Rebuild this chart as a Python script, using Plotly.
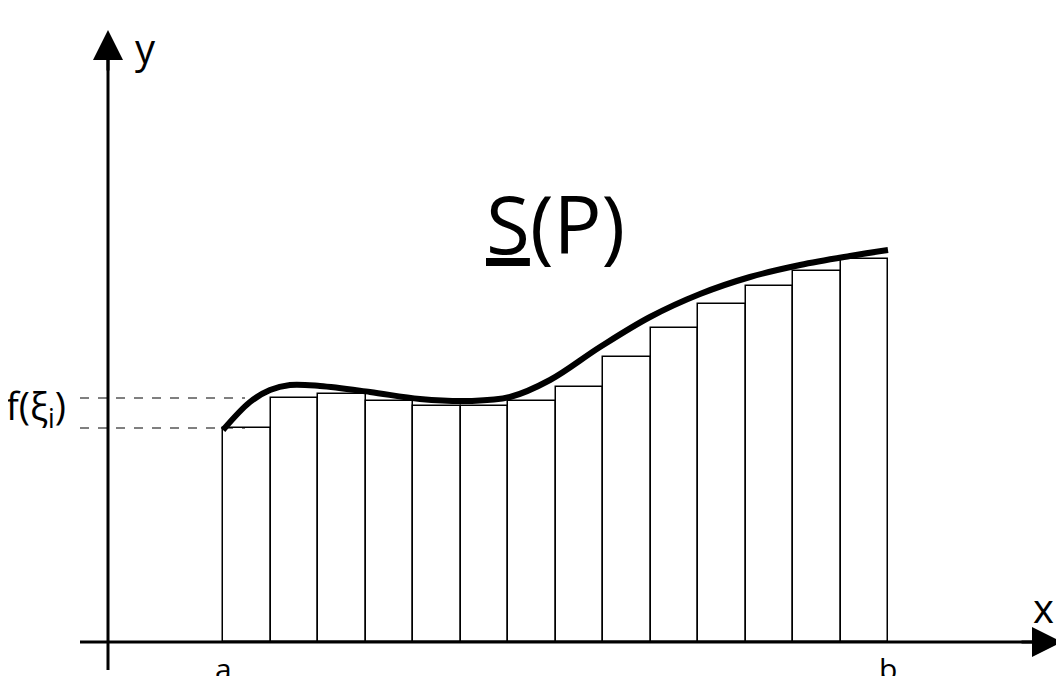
import plotly.graph_objects as go

# partition a..b into 14 cells (pixel-like units), lower sum heights
x_a, x_b = 223, 888
bar_heights = [214, 244, 248, 241, 236, 236, 241, 255, 285, 314, 338, 356, 371, 383]
curve_x = [223, 250, 270, 290, 320, 370, 420, 470, 510, 550, 600, 650, 700, 750, 800, 850, 888]
curve_y = [212, 240, 252, 257, 256, 250, 243, 241, 245, 262, 295, 325, 348, 365, 377, 386, 392]

n = len(bar_heights)
w = (x_b - x_a) / n
bar_x = [x_a + w * (i + 0.5) for i in range(n)]

fig = go.Figure()
fig.add_trace(go.Bar(x=bar_x, y=bar_heights, width=w, marker=dict(color="white", line=dict(color="black", width=1.5))))
fig.add_trace(go.Scatter(x=curve_x, y=curve_y, mode="lines", line=dict(color="black", width=6, shape="spline")))

# dashed guides to f(xi_i)
for h in [bar_heights[0], bar_heights[1]]:
    fig.add_trace(go.Scatter(x=[80, 245], y=[h, h], mode="lines", line=dict(color="black", width=1, dash="dash")))

# axes
fig.add_trace(go.Scatter(x=[80, 1035], y=[0, 0], mode="lines", line=dict(color="black", width=3)))
fig.add_trace(go.Scatter(x=[108, 108], y=[-28, 585], mode="lines", line=dict(color="black", width=3)))
fig.add_annotation(x=1062, y=0, ax=1020, ay=0, xref="x", yref="y", axref="x", ayref="y",
                   showarrow=True, arrowhead=2, arrowsize=2, arrowwidth=3, arrowcolor="black", text="")
fig.add_annotation(x=108, y=612, ax=108, ay=570, xref="x", yref="y", axref="x", ayref="y",
                   showarrow=True, arrowhead=2, arrowsize=2, arrowwidth=3, arrowcolor="black", text="")

font = "Open Sans"
labels = [(145, 595, "y", 40), (1043, 35, "x", 40), (223, -26, "a", 30), (888, -26, "b", 30),
          (36, 235, "f(ξ<sub>i</sub>)", 38), (555, 420, "<u>S</u>(P)", 80)]
for x, y, t, s in labels:
    fig.add_annotation(x=x, y=y, text=t, showarrow=False, font=dict(family=font, size=s, color="black"))

fig.update_layout(
    width=1064, height=676, margin=dict(l=0, r=0, t=0, b=0),
    plot_bgcolor="white", paper_bgcolor="white", showlegend=False, bargap=0,
    xaxis=dict(range=[8, 1072], visible=False),
    yaxis=dict(range=[-42, 634], visible=False),
)
fig.write_html("out.html")
